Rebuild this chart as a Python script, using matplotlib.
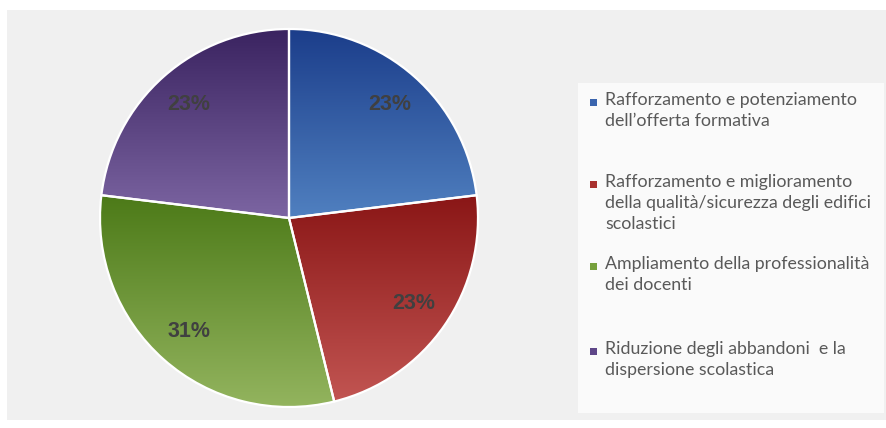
import numpy as np
import matplotlib
matplotlib.use('Agg')
import matplotlib.pyplot as plt
from matplotlib.colors import LinearSegmentedColormap
from matplotlib.patches import Rectangle

# dati del grafico
categorie = [
    "Rafforzamento e potenziamento\ndell\u2019offerta formativa",
    "Rafforzamento e miglioramento\ndella qualit\u00e0/sicurezza degli edifici\nscolastici",
    "Ampliamento della professionalit\u00e0\ndei docenti",
    "Riduzione degli abbandoni  e la\ndispersione scolastica",
]
valori = [3, 3, 4, 3]

# gradiente (alto, basso) per ogni fetta
gradienti = [
    ("#1b3d8a", "#5080c0"),
    ("#8a1616", "#c25552"),
    ("#4c7a18", "#93b45e"),
    ("#3a2360", "#7c65a2"),
]
colori_legenda = ["#3a64ad", "#a8302e", "#76a03c", "#5e4688"]

W, H = 886, 428
fig = plt.figure(figsize=(W / 100, H / 100), dpi=100)
fig.patch.set_facecolor("white")

# sfondo grigio e riquadro legenda
fig.add_artist(Rectangle((7 / W, 1 - 420 / H), (W - 7) / W, 410 / H,
                         transform=fig.transFigure, facecolor="#f0f0f0",
                         edgecolor="none", zorder=0))
fig.add_artist(Rectangle((578 / W, 1 - 413 / H), 306 / W, 330 / H,
                         transform=fig.transFigure, facecolor="#fafafa",
                         edgecolor="none", zorder=0))

# assi della torta
cx, cy, r = 289, 218, 189
lim = 1.02
ax = fig.add_axes([(cx - r * lim) / W, (H - cy - r * lim) / H,
                   2 * r * lim / W, 2 * r * lim / H])
ax.set_facecolor("none")

wedges, _, autotexts = ax.pie(
    valori, startangle=90, counterclock=False, autopct="%1.0f%%",
    pctdistance=0.8, radius=1,
    wedgeprops=dict(edgecolor="white", linewidth=1.6, facecolor="none"),
    textprops=dict(color="#404040", fontsize=15.5, fontweight="bold",
                   family="Liberation Sans"))

grad = np.linspace(0, 1, 256).reshape(-1, 1)
for w, (c0, c1) in zip(wedges, gradienti):
    bb = w.get_path().transformed(w.get_patch_transform()).get_extents()
    cmap = LinearSegmentedColormap.from_list("g", [c0, c1])
    im = ax.imshow(grad, cmap=cmap, origin="upper", aspect="auto",
                   extent=[bb.x0, bb.x1, bb.y0, bb.y1], zorder=1,
                   interpolation="bilinear")
    im.set_clip_path(w)
    w.set_zorder(2)
for t in autotexts:
    t.set_zorder(3)

ax.set_xlim(-lim, lim)
ax.set_ylim(-lim, lim)
ax.set_aspect("auto")
ax.axis("off")

# legenda manuale
y_voci = [102, 184, 266, 351]
for testo, col, y in zip(categorie, colori_legenda, y_voci):
    fig.add_artist(Rectangle((590 / W, 1 - (y + 4) / H), 7 / W, 7 / H,
                             transform=fig.transFigure, facecolor=col,
                             edgecolor="none"))
    fig.text(605 / W, 1 - (y - 10) / H, testo, ha="left", va="top",
             fontsize=12.8, family="Lato", color="#595959",
             linespacing=1.38)

fig.savefig("out.png", dpi=100, facecolor="white")
